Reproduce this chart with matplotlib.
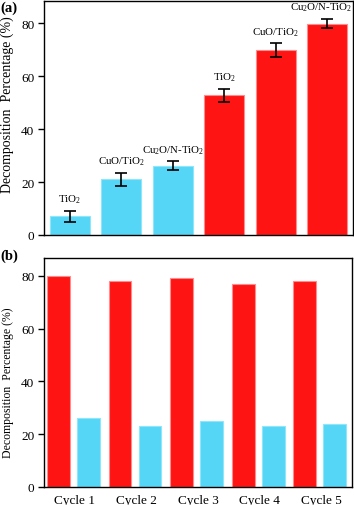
import matplotlib
matplotlib.use('Agg')
from matplotlib import pyplot as plt
import numpy as np

# panel (a): decomposition of each catalyst, two conditions
samples_a = ['TiO$_2$', 'CuO/TiO$_2$', 'Cu$_2$O/N-TiO$_2$',
             'TiO$_2$', 'CuO/TiO$_2$', 'Cu$_2$O/N-TiO$_2$']
values_a = [7.1, 21.1, 26.2, 52.8, 69.9, 79.9]
errors_a = [2.0, 2.5, 1.7, 2.4, 2.6, 1.8]
is_red_a = [False, False, False, True, True, True]

# panel (b): recycling test
cycles = ['Cycle 1', 'Cycle 2', 'Cycle 3', 'Cycle 4', 'Cycle 5']
red_b = [80, 78, 79, 77, 78]
cyan_b = [26, 23, 25, 23, 24]

RED = '#FF1414'
RED_EDGE = '#FF8C8C'
CYAN = '#55D6F6'
CYAN_EDGE = '#8FE6FA'

plt.rcParams['font.family'] = ['Liberation Serif', 'DejaVu Serif']
plt.rcParams['mathtext.fontset'] = 'custom'
plt.rcParams['mathtext.rm'] = 'Liberation Serif'
plt.rcParams['mathtext.it'] = 'Liberation Serif:italic'

fig = plt.figure(figsize=(3.54, 5.06), dpi=100)

def style_axes(ax, label_size, label_y):
    for sp in ax.spines.values():
        sp.set_linewidth(1.0)
        sp.set_color('black')
    ax.tick_params(axis='y', direction='out', length=4, width=1.0, pad=3, labelsize=9.5)
    ax.tick_params(axis='x', length=0, pad=5, labelsize=9.5)
    ax.set_yticks([0, 20, 40, 60, 80])
    ax.set_ylabel('Decomposition  Percentage (%)', fontsize=label_size)
    ax.yaxis.set_label_coords(-0.098, label_y)

# (a)
ax1 = fig.add_axes([44/354, 1 - 236/506, 309/354, 234/506])
x = np.arange(len(values_a))
colors = [RED if r else CYAN for r in is_red_a]
edges = [RED_EDGE if r else CYAN_EDGE for r in is_red_a]
ax1.bar(x, values_a, width=0.78, color=colors, edgecolor=edges, linewidth=0.8)
ax1.errorbar(x, values_a, yerr=errors_a, fmt='none', ecolor='black',
             elinewidth=1.2, capsize=4, capthick=1.2)
for i, (xi, v, e, s) in enumerate(zip(x, values_a, errors_a, samples_a)):
    dx = -4.5 if i == len(x) - 1 else 0   # last label pushed in from the edge
    ax1.annotate(s, (xi, v + e), xytext=(dx, 4), textcoords='offset points',
                 ha='center', va='bottom', fontsize=7.8)
ax1.set_xlim(-0.5, 5.5)
ax1.set_ylim(0, 88.5)
ax1.set_xticks([])
style_axes(ax1, 10, 0.56)
fig.text(0.0, 0.997, '(a)', fontsize=10.5, fontweight='bold', ha='left', va='top')

# (b)
ax2 = fig.add_axes([44/354, 1 - 488/506, 308/354, 229/506])
xb = np.arange(len(cycles))
ax2.bar(xb - 0.265, red_b, width=0.37, color=RED, edgecolor=RED_EDGE, linewidth=0.8)
ax2.bar(xb + 0.22, cyan_b, width=0.37, color=CYAN, edgecolor=CYAN_EDGE, linewidth=0.8)
ax2.set_xlim(-0.5, 4.5)
ax2.set_ylim(0, 86.7)
ax2.set_xticks(xb)
ax2.set_xticklabels(cycles)
style_axes(ax2, 8.5, 0.46)
fig.text(0.0, 1 - 250/506, '(b)', fontsize=10.5, fontweight='bold', ha='left', va='top')

fig.savefig('out.png', dpi=100)
